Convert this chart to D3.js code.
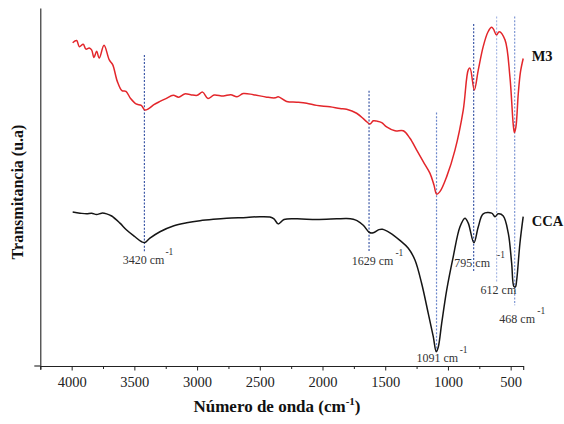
<!DOCTYPE html>
<html>
<head>
<meta charset="utf-8">
<script src="https://cdn.jsdelivr.net/npm/d3@7/dist/d3.min.js"></script>
<style>
  html, body { margin: 0; padding: 0; background: #fff; }
  svg { display: block; font-family: "Liberation Serif", "Times New Roman", serif; }
</style>
</head>
<body>
<svg id="chart" width="564" height="424"></svg>
<script>
// ---- data ----
const seriesNames = ["M3", "CCA"];

const m3Wavenumber = [3992,3960,3939,3908,3886,3860,3841,3822,3801,3780,3742,3700,3673,3636,3599,3567,3530,3487,3445,3416,3386,3344,3296,3248,3190,3147,3099,3051,2999,2956,2913,2865,2791,2732,2682,2632,2552,2445,2379,2353,2286,2206,2126,2047,1941,1861,1808,1728,1662,1622,1595,1566,1528,1489,1422,1356,1303,1249,1197,1143,1112,1090,1064,1010,944,878,838,824,790,758,719,681,651,637,613,591,545,506,479,470,458,439,422,400];
const m3Transmittance = [90.3,90.9,89.2,89.9,88.5,88.8,88.3,86.2,87.9,86.0,89.6,85.5,84.2,79.5,76.9,76.7,74.7,73.2,72.8,71.5,71.9,73.0,73.9,74.7,75.6,75.1,76.0,75.8,75.6,76.5,74.7,75.7,75.4,75.8,75.2,76.1,75.8,75.1,74.9,75.2,73.9,73.7,73.4,72.8,72.4,71.9,71.7,70.6,68.7,67.6,68.5,68.4,68.0,66.8,65.7,65.7,63.6,60.3,57.1,53.8,50.6,48.0,48.7,52.9,60.3,71.5,82.7,83.2,77.1,82.7,89.2,93.3,94.6,94.1,92.5,93.4,91.1,80.8,67.3,65.2,66.8,76.2,82.1,85.9];

const ccaWavenumber = [3992,3934,3880,3841,3801,3761,3721,3681,3615,3562,3495,3442,3416,3376,3296,3190,3083,2977,2871,2764,2605,2499,2419,2387,2353,2307,2206,2047,1887,1808,1755,1725,1675,1626,1595,1550,1522,1462,1383,1316,1263,1210,1157,1117,1093,1077,1050,1010,958,904,864,838,793,758,719,651,625,599,559,519,492,474,462,452,426,400];
const ccaTransmittance = [43.0,42.7,42.5,42.7,42.3,42.7,42.5,41.9,39.9,38.0,36.1,34.7,34.5,35.7,37.5,39.1,40.0,40.6,41.0,41.3,41.5,41.7,41.6,41.1,39.7,40.9,41.1,40.9,41.1,41.2,41.0,40.6,39.3,37.3,37.2,38.1,38.2,37.2,35.1,32.9,29.6,23.1,14.7,8.2,4.0,5.3,11.9,21.2,30.5,38.9,41.3,39.9,34.4,38.9,42.5,42.7,41.7,42.5,41.9,37.1,28.7,22.2,22.1,24.0,34.3,41.7];

const peakWavenumbers = [3420, 1629, 1091, 795, 612, 468];
const peakLabels = ["3420 cm", "1629 cm", "1091 cm", "795 cm", "612 cm", "468 cm"];
const peakSuperscripts = ["-1", "-1", "-1", "-1", "", "-1"];
const peakLineTop = [86.9, 76.9, 70.8, 95.5, 97.6, 97.6];
const peakLineBottom = [31.6, 31.8, 3.9, 26.3, 23.5, 17.0];

const xMajorTicks = [4000, 3500, 3000, 2500, 2000, 1500, 1000, 500];
const xMinorTicks = [4250, 3750, 3250, 2750, 2250, 1750, 1250, 750];
const xDomain = [4250, 400];
const yDomain = [0, 100];
const xTitle = "Número de onda (cm";
const yTitle = "Transmitancia (u.a)";

// ---- layout ----
const svg = d3.select("#chart");
const x = d3.scaleLinear().domain(xDomain).range([40.3, 523.2]);
const y = d3.scaleLinear().domain(yDomain).range([366, 8]);

const seriesStyle = {
  M3: { color: "#e3262b" },
  CCA: { color: "#151515" }
};
const peakColors = ["#3f5aa8", "#3f5aa8", "#6d88cc", "#3f5aa8", "#a9b9e4", "#7e97d4"];
// label layout: [dx of text start from line, baseline dy (px below line bottom), superscript gap]
const labelLayout = [
  [-21.7, 11, 1],
  [-17.3, 13, 2],
  [-20, 10, 1.5],
  [-19.3, -5, 7],
  [-16, 12, 0],
  [-15.3, 18, 2.3]
];

// axes
const yAxis = d3.axisLeft(y).tickValues([]).tickSizeOuter(0);
svg.append("g").attr("transform", `translate(${x(xDomain[0])},0)`).call(yAxis)
  .call(g => g.select(".domain").attr("stroke", "#222").attr("stroke-width", 1.1));
// small overhangs like the original
svg.append("line").attr("x1", x(xDomain[0]) - 6).attr("x2", x(xDomain[0]))
  .attr("y1", y(0)).attr("y2", y(0)).attr("stroke", "#222").attr("stroke-width", 1.1);

const xAxis = d3.axisBottom(x).tickValues(xMajorTicks).tickSize(4.5).tickSizeOuter(4).tickPadding(6)
  .tickFormat(d3.format("d"));
const gx = svg.append("g").attr("transform", `translate(0,${y(0)})`).call(xAxis);
gx.select(".domain").attr("stroke", "#222").attr("stroke-width", 1.1);
gx.selectAll(".tick line").attr("stroke", "#222");
gx.selectAll(".tick text").attr("font-size", 14.5).attr("fill", "#222")
  .attr("font-family", "'Liberation Serif', 'Times New Roman', serif");
const xAxisMinor = d3.axisBottom(x).tickValues(xMinorTicks).tickSize(3).tickFormat("");
const gxm = svg.append("g").attr("transform", `translate(0,${y(0)})`).call(xAxisMinor);
gxm.select(".domain").remove();
gxm.selectAll(".tick line").attr("stroke", "#222");

// axis titles
const xt = svg.append("text").attr("x", 277).attr("y", 412).attr("text-anchor", "middle")
  .attr("font-size", 17).attr("font-weight", "bold").attr("fill", "#111");
xt.append("tspan").text(xTitle);
xt.append("tspan").attr("dy", -7).attr("font-size", 11).text("-1");
xt.append("tspan").attr("dy", 7).text(")");

svg.append("text").attr("transform", "translate(23,192) rotate(-90)").attr("text-anchor", "middle")
  .attr("font-size", 16).attr("font-weight", "bold").attr("fill", "#111").text(yTitle);

// peak dashed lines
peakWavenumbers.forEach((w, i) => {
  svg.append("line")
    .attr("x1", x(w)).attr("x2", x(w))
    .attr("y1", y(peakLineTop[i])).attr("y2", y(peakLineBottom[i]))
    .attr("stroke", peakColors[i]).attr("stroke-width", 1.2)
    .attr("stroke-dasharray", "2,1.6");
});

// spectra
const line = d3.line().x(d => x(d[0])).y(d => y(d[1])).curve(d3.curveCatmullRom.alpha(0.5));
const m3Data = d3.zip(m3Wavenumber, m3Transmittance);
const ccaData = d3.zip(ccaWavenumber, ccaTransmittance);
[["M3", m3Data], ["CCA", ccaData]].forEach(([name, data]) => {
  svg.append("path").datum(data).attr("d", line)
    .attr("fill", "none").attr("stroke", seriesStyle[name].color)
    .attr("stroke-width", 1.5).attr("stroke-linejoin", "round");
});

// series labels
svg.append("text").attr("x", x(m3Wavenumber[m3Wavenumber.length - 1]) + 8.5)
  .attr("y", y(m3Transmittance[m3Transmittance.length - 1]) + 3)
  .attr("font-size", 14.5).attr("font-weight", "bold").attr("fill", "#111").text(seriesNames[0]);
svg.append("text").attr("x", x(ccaWavenumber[ccaWavenumber.length - 1]) + 8.5)
  .attr("y", y(ccaTransmittance[ccaTransmittance.length - 1]) + 9)
  .attr("font-size", 14.5).attr("font-weight", "bold").attr("fill", "#111").text(seriesNames[1]);

// peak labels
peakWavenumbers.forEach((w, i) => {
  const [dx, dy, gap] = labelLayout[i];
  const t = svg.append("text")
    .attr("x", x(w) + dx).attr("y", y(peakLineBottom[i]) + dy)
    .attr("font-size", 12).attr("fill", "#333");
  t.append("tspan").text(peakLabels[i]);
  if (peakSuperscripts[i]) {
    t.append("tspan").attr("dx", gap).attr("dy", -9).attr("font-size", 9.5).text(peakSuperscripts[i]);
  }
});
</script>
</body>
</html>
